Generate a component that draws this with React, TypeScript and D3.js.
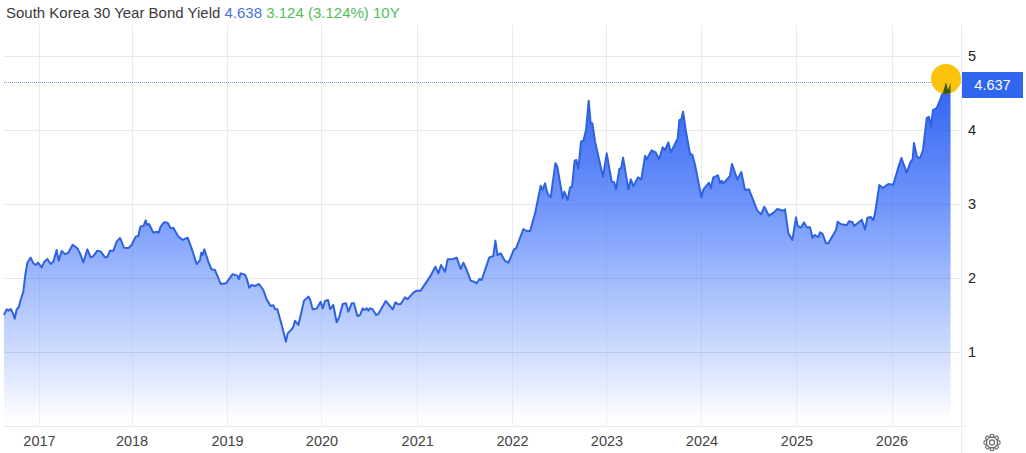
import * as d3 from 'd3';

const width = 1026;
const height = 453;

// [decimal year, yield %]
const yieldPoints: [number, number][] = [
  [2016.625,1.5],[2016.653,1.577],[2016.674,1.559],[2016.696,1.581],[2016.717,1.532],[2016.738,1.45],[2016.759,1.577],[2016.78,1.6],[2016.801,1.703],[2016.829,1.815],[2016.85,2.04],[2016.872,2.207],[2016.907,2.275],[2016.935,2.198],[2016.963,2.176],[2016.984,2.207],
  [2017.023,2.144],[2017.051,2.221],[2017.083,2.257],[2017.118,2.189],[2017.146,2.221],[2017.181,2.378],[2017.202,2.234],[2017.234,2.365],[2017.269,2.32],[2017.304,2.342],[2017.35,2.45],[2017.399,2.401],[2017.428,2.333],[2017.463,2.212],[2017.505,2.387],[2017.54,2.279],[2017.568,2.297],[2017.611,2.369],[2017.646,2.36],[2017.692,2.279],[2017.716,2.284],[2017.744,2.369],[2017.78,2.369],[2017.815,2.491],[2017.85,2.541],[2017.892,2.41],[2017.938,2.405],[2017.973,2.446],
  [2018.015,2.559],[2018.043,2.568],[2018.065,2.694],[2018.1,2.707],[2018.121,2.779],[2018.135,2.716],[2018.156,2.73],[2018.202,2.613],[2018.237,2.626],[2018.258,2.613],[2018.279,2.694],[2018.314,2.752],[2018.353,2.748],[2018.385,2.671],[2018.413,2.68],[2018.466,2.559],[2018.512,2.514],[2018.564,2.545],[2018.606,2.401],[2018.659,2.189],[2018.694,2.243],[2018.708,2.342],[2018.722,2.311],[2018.74,2.387],[2018.782,2.221],[2018.817,2.117],[2018.853,2.108],[2018.913,1.919],[2018.969,1.928],
  [2019.036,2.05],[2019.089,2.032],[2019.106,1.986],[2019.124,2.063],[2019.17,2.045],[2019.187,1.995],[2019.215,1.869],[2019.24,1.905],[2019.275,1.892],[2019.317,1.919],[2019.363,1.838],[2019.398,1.712],[2019.44,1.622],[2019.469,1.631],[2019.486,1.581],[2019.511,1.577],[2019.557,1.365],[2019.602,1.14],[2019.62,1.252],[2019.662,1.306],[2019.68,1.342],[2019.697,1.423],[2019.733,1.365],[2019.793,1.694],[2019.838,1.748],[2019.856,1.712],[2019.884,1.577],[2019.926,1.586],[2019.968,1.68],[2019.99,1.59],
  [2020.014,1.689],[2020.046,1.703],[2020.067,1.581],[2020.102,1.635],[2020.137,1.401],[2020.165,1.477],[2020.201,1.649],[2020.236,1.658],[2020.261,1.545],[2020.296,1.658],[2020.32,1.658],[2020.356,1.486],[2020.384,1.5],[2020.412,1.59],[2020.429,1.568],[2020.454,1.59],[2020.472,1.559],[2020.489,1.59],[2020.517,1.577],[2020.553,1.5],[2020.577,1.514],[2020.655,1.689],[2020.729,1.577],[2020.757,1.671],[2020.788,1.644],[2020.813,1.649],[2020.859,1.739],[2020.883,1.712],[2020.947,1.802],[2020.982,1.829],
  [2021.024,1.829],[2021.123,2.018],[2021.179,2.153],[2021.211,2.063],[2021.239,2.176],[2021.281,2.086],[2021.309,2.252],[2021.369,2.257],[2021.404,2.275],[2021.447,2.122],[2021.475,2.207],[2021.51,2.108],[2021.552,1.964],[2021.587,1.95],[2021.615,1.928],[2021.644,1.986],[2021.668,1.973],[2021.749,2.279],[2021.791,2.297],[2021.813,2.505],[2021.834,2.311],[2021.869,2.333],[2021.915,2.23],[2021.95,2.207],
  [2022.01,2.387],[2022.031,2.401],[2022.091,2.604],[2022.108,2.662],[2022.144,2.635],[2022.179,2.635],[2022.232,2.874],[2022.291,3.248],[2022.312,3.189],[2022.337,3.279],[2022.365,3.135],[2022.397,3.09],[2022.446,3.55],[2022.467,3.505],[2022.524,3.077],[2022.541,3.167],[2022.576,3.054],[2022.601,3.225],[2022.622,3.234],[2022.65,3.586],[2022.668,3.595],[2022.689,3.473],[2022.717,3.842],[2022.742,3.856],[2022.77,4.0],[2022.798,4.396],[2022.819,4.09],[2022.837,4.09],[2022.865,3.842],[2022.949,3.369],[2022.988,3.685],
  [2023.041,3.302],[2023.066,3.293],[2023.087,3.198],[2023.122,3.477],[2023.14,3.482],[2023.161,3.626],[2023.217,3.198],[2023.242,3.333],[2023.27,3.243],[2023.319,3.36],[2023.354,3.333],[2023.393,3.653],[2023.41,3.604],[2023.463,3.725],[2023.505,3.698],[2023.541,3.604],[2023.579,3.766],[2023.604,3.73],[2023.639,3.833],[2023.664,3.698],[2023.738,3.887],[2023.755,4.135],[2023.776,4.144],[2023.794,4.248],[2023.822,4.0],[2023.868,3.676],[2023.893,3.662],[2023.921,3.527],[2023.988,3.09],
  [2024.009,3.198],[2024.068,3.288],[2024.086,3.212],[2024.114,3.36],[2024.163,3.387],[2024.185,3.279],[2024.202,3.315],[2024.22,3.279],[2024.29,3.378],[2024.311,3.541],[2024.367,3.333],[2024.409,3.432],[2024.448,3.189],[2024.49,3.198],[2024.578,2.91],[2024.617,2.86],[2024.652,2.964],[2024.701,2.842],[2024.754,2.887],[2024.789,2.932],[2024.853,2.91],[2024.87,2.928],[2024.906,2.604],[2024.948,2.514],[2024.987,2.82],
  [2025.004,2.703],[2025.039,2.68],[2025.071,2.752],[2025.099,2.685],[2025.134,2.685],[2025.162,2.545],[2025.187,2.581],[2025.222,2.55],[2025.24,2.617],[2025.268,2.595],[2025.303,2.468],[2025.328,2.468],[2025.409,2.649],[2025.426,2.761],[2025.458,2.73],[2025.521,2.712],[2025.546,2.766],[2025.581,2.757],[2025.602,2.703],[2025.68,2.788],[2025.715,2.658],[2025.74,2.815],[2025.775,2.824],[2025.803,2.784],[2025.821,2.874],[2025.866,3.257],[2025.902,3.216],[2025.961,3.27],
  [2026.014,3.261],[2026.067,3.495],[2026.099,3.622],[2026.155,3.423],[2026.197,3.572],[2026.218,3.604],[2026.232,3.824],[2026.264,3.635],[2026.296,3.622],[2026.327,3.73],[2026.367,4.162],[2026.391,4.176],[2026.412,4.041],[2026.433,4.27],[2026.472,4.297],[2026.507,4.405],[2026.539,4.514],[2026.57,4.649],[2026.591,4.541],[2026.618,4.637],
];

const yearLabels = ['2017', '2018', '2019', '2020', '2021', '2022', '2023', '2024', '2025', '2026'];
// where the chart puts each year tick, the first week it has data for
const yearTickAt = [2017, 2017.977, 2018.985, 2019.982, 2020.993, 2021.994, 2022.991, 2023.994, 2024.997, 2026];
const yieldTicks = [1, 2, 3, 4, 5];
const lastValue = 4.637;
const lastYear = 2026.57;

const x = d3.scaleLinear().domain([2017, 2026]).range([39.5, 892]);
const y = d3.scaleLinear().domain([0, 5]).range([426, 56]);

const left = x(2016.625);
const right = 961.5;

const line = d3.line<[number, number]>().x(d => x(d[0])).y(d => y(d[1]));
const area = d3.area<[number, number]>().x(d => x(d[0])).y0(y(0)).y1(d => y(d[1]));

const GRID = '#e9e9ee';
const BLUE = '#2f66f0';
const FONT = '"Liberation Sans", Arial, sans-serif';

const gearTeeth = d3.range(8).map(i => (i * 360) / 8);

export default function App() {
  return (
    <svg
      width={width}
      height={height}
      style={{ position: 'absolute', left: 0, top: 0, background: '#fff', fontFamily: FONT }}
    >
      <defs>
        <linearGradient id="fill" gradientUnits="userSpaceOnUse" x1={0} x2={0} y1={y(4.65)} y2={y(0)}>
          <stop offset="0%" stopColor="#2f62f2" />
          <stop offset="35%" stopColor="#6f95fb" />
          <stop offset="57%" stopColor="#a0bafc" />
          <stop offset="78.5%" stopColor="#cfdcfd" />
          <stop offset="97%" stopColor="#fbfcff" />
          <stop offset="100%" stopColor="#ffffff" />
        </linearGradient>
        <clipPath id="marker">
          <circle cx={x(lastYear)} cy={y(4.69)} r={15} />
        </clipPath>
      </defs>

      {/* grid under the area */}
      {yieldTicks.map(t => (
        <line key={t} x1={left} x2={right} y1={y(t) + 0.5} y2={y(t) + 0.5} stroke={GRID} />
      ))}
      {yearTickAt.map(t => (
        <line key={t} x1={Math.floor(x(t)) + 0.5} x2={Math.floor(x(t)) + 0.5} y1={25} y2={y(0)} stroke={GRID} />
      ))}

      <path d={area(yieldPoints) ?? ''} fill="url(#fill)" />

      {/* grid shows faintly through the fill */}
      {yieldTicks.slice(0, 4).map(t => {
        const clipId = `under-${t}`;
        return (
          <g key={t}>
            <clipPath id={clipId}><path d={area(yieldPoints) ?? ''} /></clipPath>
            <line x1={left} x2={x(2026.618)} y1={y(t) + 0.5} y2={y(t) + 0.5} stroke="#4a5a90" strokeOpacity={0.14} clipPath={`url(#${clipId})`} />
          </g>
        );
      })}
      {yearTickAt.map(t => (
        <line
          key={t}
          x1={Math.floor(x(t)) + 0.5}
          x2={Math.floor(x(t)) + 0.5}
          y1={y(d3.max(yieldPoints.filter(p => Math.abs(p[0] - t) < 0.03), p => p[1]) ?? 0)}
          y2={y(0)}
          stroke="#4a5a90"
          strokeOpacity={0.08}
        />
      ))}

      <path d={line(yieldPoints) ?? ''} fill="none" stroke="#2f62e0" strokeWidth={2} strokeLinejoin="round" />

      {/* axis frame */}
      <line x1={left} x2={966} y1={y(0) + 0.5} y2={y(0) + 0.5} stroke={GRID} />
      <line x1={right} x2={right} y1={25} y2={height} stroke={GRID} />

      {/* last value line and marker */}
      <line x1={left} x2={right} y1={82.5} y2={82.5} stroke="#3f66c8" strokeOpacity={0.7} strokeDasharray="1 1" />
      <circle cx={x(lastYear)} cy={y(4.69)} r={15} fill="#fac40c" />
      <g clipPath="url(#marker)">
        <path d={area(yieldPoints) ?? ''} fill="#3d5a12" />
      </g>
      <rect x={962} y={72} width={61} height={26} fill={BLUE} />
      <text x={992.5} y={90} textAnchor="middle" fontSize={14.5} fill="#fff">{lastValue.toFixed(3)}</text>

      {/* axis labels */}
      {yieldTicks.map(t => (
        <text key={t} x={968} y={y(t) + 5} fontSize={14.5} fill="#222">{t}</text>
      ))}
      {yearTickAt.map((t, i) => (
        <text key={t} x={x(t)} y={446} textAnchor="middle" fontSize={14.5} fill="#444">{yearLabels[i]}</text>
      ))}

      {/* header */}
      <text x={6} y={18} fontSize={15}>
        <tspan fill="#3a3a3a">South Korea 30 Year Bond Yield </tspan>
        <tspan fill="#4a72d8">4.638 </tspan>
        <tspan fill="#4fc05a">3.124 (3.124%) 10Y</tspan>
      </text>

      {/* settings gear */}
      <g transform="translate(992,442.5)" fill="none" stroke="#666" strokeWidth={1.1}>
        <circle r={2.6} />
        <circle r={5.6} />
        {gearTeeth.map(a => (
          <rect key={a} x={-1.8} y={-8} width={3.6} height={2.6} rx={0.8} transform={`rotate(${a})`} fill="#fff" />
        ))}
      </g>
    </svg>
  );
}
